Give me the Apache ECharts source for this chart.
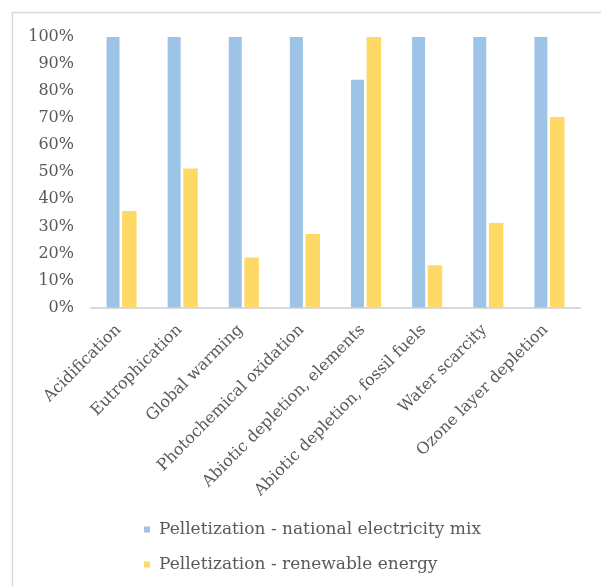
<!DOCTYPE html>
<html>
<head>
<meta charset="utf-8">
<script src="https://cdn.jsdelivr.net/npm/echarts@6/dist/echarts.min.js"></script>
<style>html,body{margin:0;padding:0;background:#fff;}#c{width:601px;height:586px;}</style>
</head>
<body>
<div id="c"></div>
<script>
const categories = ["Acidification","Eutrophication","Global warming","Photochemical oxidation","Abiotic depletion, elements","Abiotic depletion, fossil fuels","Water scarcity","Ozone layer depletion"];
const seriesNames = ["Pelletization - national electricity mix","Pelletization - renewable energy"];
const nationalMix = [100, 100, 100, 100, 84.2, 100, 100, 100];
const renewable = [35.7, 51.4, 18.5, 27.2, 100, 15.6, 31.2, 70.4];
const yTicks = [0, 10, 20, 30, 40, 50, 60, 70, 80, 90, 100];

const font = "DejaVu Serif";
const textColor = "#595959";
const chart = echarts.init(document.getElementById('c'), null, {renderer: 'canvas'});
chart.setOption({
  animation: false,
  backgroundColor: '#fff',
  graphic: [{
    type: 'polyline',
    shape: {points: [[12.5, 586], [12.5, 12.5], [601, 12.5]]},
    style: {stroke: '#d9d9d9', lineWidth: 1.5, fill: null}
  }],
  grid: [
    {left: 91, right: 21, top: 37, bottom: 278.5, containLabel: false},
    {left: 88, right: 25, top: 37, bottom: 278.5, containLabel: false}
  ],
  legend: {
    orient: 'vertical',
    left: 139,
    top: 516,
    itemWidth: 6,
    itemHeight: 6,
    itemGap: 18,
    icon: 'rect',
    textStyle: {fontFamily: font, fontSize: 17, color: textColor, padding: [0, 0, 0, 4]},
    data: seriesNames
  },
  xAxis: [{
    type: 'category',
    gridIndex: 0,
    data: categories,
    axisLine: {lineStyle: {color: '#d9d9d9', width: 2}},
    axisTick: {show: false},
    axisLabel: {show: false}
  }, {
    type: 'category',
    gridIndex: 1,
    data: categories,
    axisLine: {show: false},
    axisTick: {show: false},
    axisLabel: {rotate: 45, interval: 0, fontFamily: font, fontSize: 16, color: textColor, margin: 20}
  }],
  yAxis: [{
    type: 'value',
    gridIndex: 0,
    min: yTicks[0],
    max: yTicks[yTicks.length - 1],
    interval: 10,
    axisLine: {show: false},
    axisTick: {show: false},
    splitLine: {show: false},
    axisLabel: {formatter: '{value}%', fontFamily: font, fontSize: 16, color: textColor, margin: 17}
  }, {
    type: 'value',
    gridIndex: 1,
    min: 0, max: 100,
    show: false
  }],
  series: [
    {name: seriesNames[0], type: 'bar', xAxisIndex: 0, yAxisIndex: 0, data: nationalMix, barWidth: 13, barGap: '20%', itemStyle: {color: '#9DC3E6'}},
    {name: seriesNames[1], type: 'bar', xAxisIndex: 0, yAxisIndex: 0, data: renewable, barWidth: 14.5, barGap: '20%', itemStyle: {color: '#FFD966'}}
  ]
});
</script>
</body>
</html>
